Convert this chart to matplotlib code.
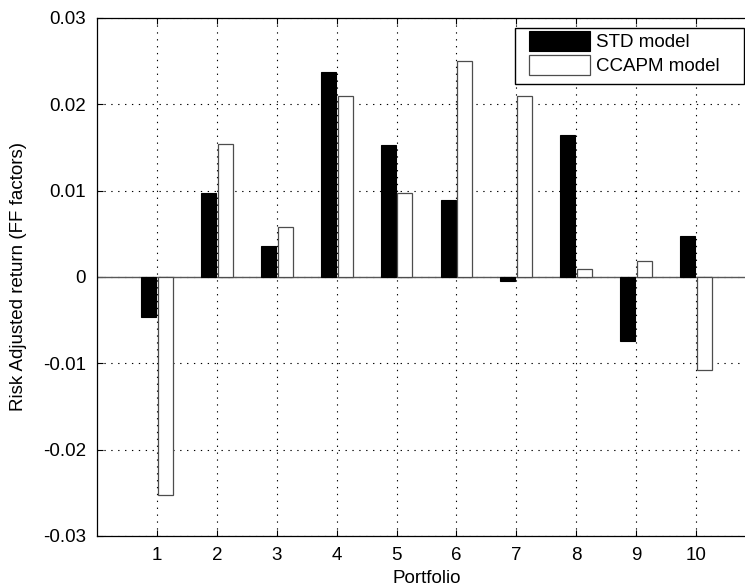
import numpy as np
import matplotlib
matplotlib.use("Agg")
import matplotlib.pyplot as plt
from matplotlib.ticker import FuncFormatter
from matplotlib.patches import Rectangle

# values
portfolios = np.arange(1, 11)
std_model = [-0.0046, 0.0097, 0.0036, 0.0237, 0.0153, 0.0089, -0.0005, 0.0165, -0.0074, 0.0048]
ccapm_model = [-0.0253, 0.0154, 0.0058, 0.0210, 0.0097, 0.0250, 0.0210, 0.0009, 0.0018, -0.0108]
series_names = ["STD model", "CCAPM model"]
y_ticks = [-0.03, -0.02, -0.01, 0, 0.01, 0.02, 0.03]

plt.rcParams["font.family"] = ["Liberation Sans", "DejaVu Sans"]
plt.rcParams["font.size"] = 13.5
plt.rcParams["axes.unicode_minus"] = False

W, H = 745, 586
fig = plt.figure(figsize=(W / 100, H / 100), dpi=100)
# axes box in pixels (right edge runs past the image, as in the reference)
left, right, top, bottom = 97, 756, 18, 536
ax = fig.add_axes([left / W, 1 - bottom / H, (right - left) / W, (bottom - top) / H])

off, bw = 0.14, 0.25
ax.bar(portfolios - off, std_model, width=bw, color="black", edgecolor="black",
       linewidth=0.8, label=series_names[0], zorder=3)
ax.bar(portfolios + off, ccapm_model, width=bw, color="white", edgecolor="0.3",
       linewidth=0.9, label=series_names[1], zorder=3)
ax.axhline(0, color="0.35", linewidth=1.0, zorder=2)

ax.set_xlim(0, 11)
ax.set_ylim(-0.03, 0.03)
ax.set_xticks(portfolios)
ax.set_yticks(y_ticks)
ax.yaxis.set_major_formatter(FuncFormatter(lambda v, p: f"{v:g}"))
ax.tick_params(direction="in", length=4, width=0.8, top=True, right=True, pad=8)
ax.grid(True, color="black", linestyle=(0, (1.2, 5)), linewidth=0.8)
ax.set_axisbelow(True)
for s in ax.spines.values():
    s.set_linewidth(0.9)

ax.set_xlabel("Portfolio", labelpad=4)
ax.set_ylabel("Risk Adjusted return (FF factors)", labelpad=11)

# legend box drawn by hand so the padding matches the reference
box = Rectangle((515 / W, 1 - 84 / H), (744 - 515) / W, (84 - 28) / H,
                transform=fig.transFigure, facecolor="white", edgecolor="black",
                linewidth=1.0, zorder=4, clip_on=False)
ax.add_patch(box)
leg = ax.legend(loc="upper left", bbox_to_anchor=(529 / W, 1 - 31 / H),
                bbox_transform=fig.transFigure, borderaxespad=0, borderpad=0,
                frameon=False, handlelength=3.25, handleheight=1.25,
                handletextpad=0.3, labelspacing=0.2)
leg.set_zorder(5)

fig.savefig("out.png", dpi=100)
